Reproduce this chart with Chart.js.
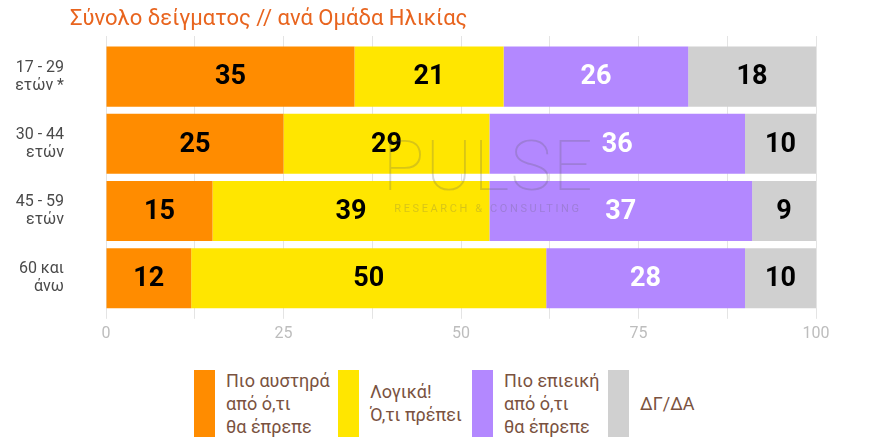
<!DOCTYPE html>
<html><head><meta charset="utf-8">
<script src="https://cdn.jsdelivr.net/npm/chart.js@4/dist/chart.umd.min.js"></script>
<style>
html,body{margin:0;padding:0;background:#fff;}
#wrap{position:relative;width:880px;height:448px;overflow:hidden;}
#box{position:absolute;left:0;top:0;width:880px;height:350px;}
#legend{position:absolute;left:0;top:369px;width:880px;height:70px;font-family:Roboto,"Noto Sans",sans-serif;color:#7a5240;font-size:18px;line-height:23px;}
.li{position:absolute;top:0;height:68px;display:flex;align-items:center;}
.sw{width:21px;height:67px;margin-right:11px;flex:none;}
</style></head>
<body><div id="wrap"><div id="box"><canvas id="c"></canvas></div><div id="legend"></div></div>
<script>
const titleText = "Σύνολο δείγματος // ανά Ομάδα Ηλικίας";
const categories = [["17 - 29","ετών *"],["30 - 44","ετών"],["45 - 59","ετών"],["60 και","άνω"]];
const seriesNames = [["Πιο αυστηρά","από ό,τι","θα έπρεπε"],["Λογικά!","Ό,τι πρέπει"],["Πιο επιεική","από ό,τι","θα έπρεπε"],["ΔΓ/ΔΑ"]];
const stricter = [35,25,15,12];
const reasonable = [21,29,39,50];
const lenient = [26,36,37,28];
const dkna = [18,10,9,10];
const xTickLabels = [0,25,50,75,100];
const colors = ["#FF8C00","#FFE600","#B388FF","#D0D0D0"];
const labelColors = ["#000","#000","#fff","#000"];
const legendLeft = [194,338,472,608];

const seriesValues=[stricter,reasonable,lenient,dkna];

const valuePlugin={id:'vals',afterDatasetsDraw(chart){
  const ctx=chart.ctx;ctx.save();
  ctx.font='bold 27px Roboto, "Liberation Sans", sans-serif';
  ctx.textAlign='center';ctx.textBaseline='middle';
  chart.data.datasets.forEach((ds,i)=>{
    const meta=chart.getDatasetMeta(i);
    meta.data.forEach((bar,j)=>{
      const x=(bar.x+bar.base)/2;
      ctx.fillStyle=labelColors[i];
      ctx.fillText(String(ds.data[j]),x,bar.y+1);
    });
  });
  ctx.restore();
}};
const catLabelPlugin={id:'catlabels',afterDraw(chart){
  const ctx=chart.ctx, ys=chart.scales.y;ctx.save();
  ctx.font='16px Roboto, "Noto Sans", sans-serif';
  ctx.fillStyle='#4a4a4a';ctx.textAlign='right';ctx.textBaseline='middle';
  const lh=18;
  categories.forEach((lines,i)=>{
    const yc=ys.getPixelForValue(i);
    lines.forEach((ln,k)=>{
      ctx.fillText(ln,ys.right-42,yc+(k-(lines.length-1)/2)*lh);
    });
  });
  ctx.restore();
}};
const decoPlugin={id:'deco',afterDraw(chart){
  const ctx=chart.ctx;ctx.save();
  ctx.fillStyle='#E8641E';
  ctx.font='22px Roboto, "Noto Sans", sans-serif';
  ctx.textBaseline='alphabetic';ctx.textAlign='left';
  ctx.fillText(titleText,70,25);
  // watermark
  ctx.fillStyle='rgba(90,90,90,0.24)';
  ctx.font='100 70px Roboto, sans-serif';
  ctx.textAlign='center';
  if('letterSpacing' in ctx) ctx.letterSpacing='1px';
  ctx.fillText('PULSE',488,190);
  ctx.font='11px Roboto, sans-serif';
  if('letterSpacing' in ctx) ctx.letterSpacing='2.6px';
  ctx.fillText('RESEARCH & CONSULTING',488,212);
  ctx.restore();
}};

new Chart(document.getElementById('c'),{
  type:'bar',
  data:{labels:categories,datasets:seriesValues.map((v,i)=>({label:seriesNames[i].join(' '),data:v,backgroundColor:colors[i],barPercentage:0.895,categoryPercentage:1}))},
  options:{
    indexAxis:'y',responsive:true,maintainAspectRatio:false,animation:false,
    layout:{padding:{top:36,right:64,left:0,bottom:0}},
    plugins:{legend:{display:false},tooltip:{enabled:false},title:{display:false}},
    scales:{
      x:{stacked:true,min:0,max:100,position:'bottom',
        ticks:{stepSize:12.5,autoSkip:false,maxRotation:0,color:'#BDBDBD',font:{size:16,family:'Roboto'},padding:6,
          callback:(v)=> xTickLabels.includes(v)?String(v):''},
        grid:{color:'#E4E4E4',tickLength:7,drawTicks:true},border:{display:false}},
      x2:{stacked:true,min:0,max:100,position:'top',
        ticks:{display:false,stepSize:12.5},
        grid:{color:'#E4E4E4',tickLength:7,drawOnChartArea:false},border:{display:false}},
      y:{stacked:true,
        ticks:{display:false},
        grid:{display:false},border:{display:true,color:'#E4E4E4'},
        afterFit(s){s.width=106;}}
    }
  },
  plugins:[valuePlugin,catLabelPlugin,decoPlugin]
});

const lg=document.getElementById('legend');
seriesNames.forEach((n,i)=>{
  const d=document.createElement('div');d.className='li';d.style.left=legendLeft[i]+'px';
  const s=document.createElement('div');s.className='sw';s.style.background=colors[i];
  const t=document.createElement('div');t.innerHTML=n.join('<br>');
  d.appendChild(s);d.appendChild(t);lg.appendChild(d);
});
</script></body></html>
